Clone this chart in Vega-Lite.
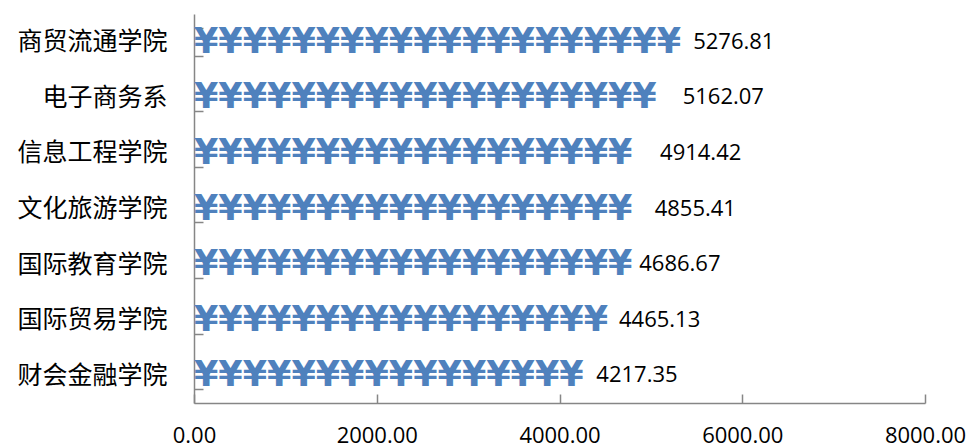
{
  "$schema": "https://vega.github.io/schema/vega-lite/v6.json",
  "autosize": "none",
  "width": 731,
  "height": 389,
  "padding": {"left": 194, "top": 14, "right": 43, "bottom": 44},
  "background": "white",
  "config": {"view": {"stroke": null}},
  "data": {"values": [
    {"dept": "商贸流通学院", "value": 5276.81},
    {"dept": "电子商务系", "value": 5162.07},
    {"dept": "信息工程学院", "value": 4914.42},
    {"dept": "文化旅游学院", "value": 4855.41},
    {"dept": "国际教育学院", "value": 4686.67},
    {"dept": "国际贸易学院", "value": 4465.13},
    {"dept": "财会金融学院", "value": 4217.35}
  ]},
  "encoding": {
    "y": {
      "field": "dept", "type": "nominal",
      "sort": ["商贸流通学院", "电子商务系", "信息工程学院", "文化旅游学院", "国际教育学院", "国际贸易学院", "财会金融学院"],
      "scale": {"paddingInner": 0.5, "paddingOuter": 0.25},
      "axis": {
        "title": null, "tickBand": "extent", "grid": false,
        "domainColor": "#868686", "domainWidth": 1.5,
        "tickColor": "#868686", "tickWidth": 1.5, "tickSize": -9,
        "labelFont": "Noto Sans CJK SC", "labelFontSize": 25, "labelColor": "#000000",
        "labelPadding": 36
      }
    }
  },
  "layer": [
    {
      "mark": {
        "type": "text", "text": "¥¥¥¥¥¥¥¥¥¥¥¥¥¥¥¥¥¥¥¥¥¥¥¥¥¥¥¥¥¥¥¥",
        "font": "DejaVu Sans", "fontWeight": "bold", "fontSize": 35,
        "color": "#4F81BD", "align": "left", "baseline": "middle",
        "limit": {"expr": "scale('x', datum.value) + 12"}, "ellipsis": "\u200b"
      },
      "encoding": {
        "x": {
          "datum": 0, "type": "quantitative",
          "scale": {"domain": [0, 8000], "nice": false, "zero": true},
          "axis": {
            "title": null, "grid": false, "values": [0, 2000, 4000, 6000, 8000],
            "format": ".2f",
            "domainColor": "#868686", "domainWidth": 1.5,
            "tickColor": "#868686", "tickWidth": 1.5, "tickSize": -9,
            "labelFont": "Open Sans", "labelFontSize": 22, "labelColor": "#000000",
            "labelPadding": 31, "labelFlush": false
          }
        }
      }
    },
    {
      "mark": {
        "type": "text", "align": "left", "baseline": "middle", "dx": 17,
        "font": "Open Sans", "fontSize": 22, "color": "#000000"
      },
      "encoding": {
        "x": {"field": "value", "type": "quantitative"},
        "text": {"field": "value", "type": "quantitative", "format": ".2f"}
      }
    }
  ]
}
